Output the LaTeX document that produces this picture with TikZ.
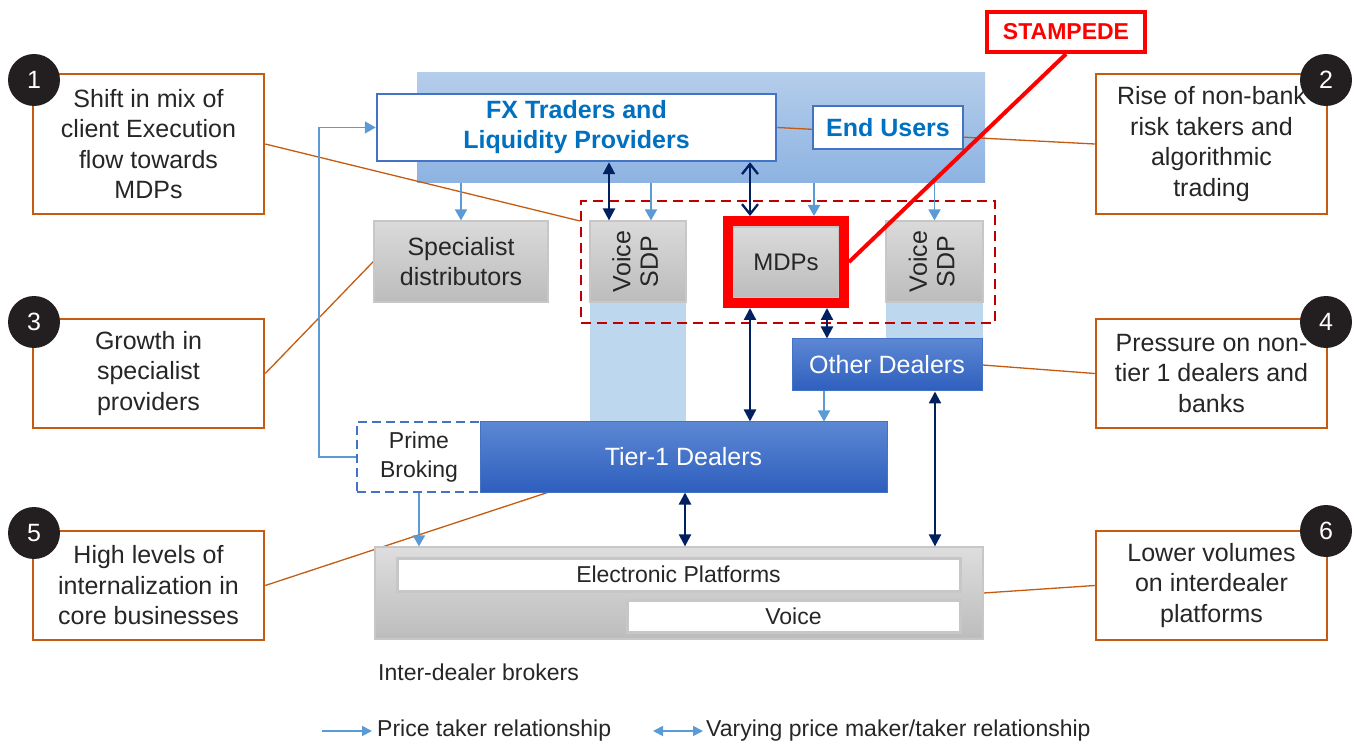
\documentclass[tikz,border=0pt]{standalone}
\usepackage{fontspec}
\setmainfont{Liberation Sans}
\usetikzlibrary{arrows.meta,calc}
\pgfdeclarelayer{back}
\pgfdeclarelayer{links}
\pgfsetlayers{back,links,main}

\definecolor{txt}{HTML}{262626}
\definecolor{org}{HTML}{C55A11}
\definecolor{navy}{HTML}{002060}
\definecolor{lblue}{HTML}{5B9BD5}
\definecolor{colbl}{HTML}{BDD7EE}
\definecolor{fxblue}{HTML}{0070C0}
\definecolor{bordblue}{HTML}{4472C4}
\definecolor{darkred}{HTML}{C00000}
\definecolor{bgtop}{HTML}{B4CDEA}
\definecolor{bgbot}{HTML}{8DB3E2}
\definecolor{graytop}{HTML}{DADADA}
\definecolor{graybot}{HTML}{BCBCBC}
\definecolor{dltop}{HTML}{5C87D3}
\definecolor{dlbot}{HTML}{2E5FBE}
\definecolor{badgecol}{HTML}{231F20}

\begin{document}
\begin{tikzpicture}[x=1pt,y=-1pt,
  every node/.style={inner sep=0pt},
  note/.style={draw=org, line width=2.5pt, fill=white, minimum width=231pt,
    text=txt, align=center, font=\fontsize{25}{30.5}\selectfont},
  badge/.style={circle, fill=badgecol, text=white, minimum size=52pt,
    font=\fontsize{25}{25}\selectfont},
  graybox/.style={draw=black!22, line width=1.2pt, top color=graytop,
    bottom color=graybot, text=txt, align=center,
    font=\fontsize{25}{30.5}\selectfont},
  dealerbox/.style={draw=bordblue, line width=1pt, top color=dltop,
    bottom color=dlbot, text=white, font=\fontsize{25}{30}\selectfont},
  bluebox/.style={draw=bordblue, line width=2.5pt, fill=white, text=fxblue,
    align=center, font=\fontsize{25}{31}\selectfont\bfseries},
  platbox/.style={draw=black!22, line width=3pt, fill=white, text=txt,
    font=\fontsize{23}{27}\selectfont},
  pt/.style={lblue, line width=1.8pt, -{Triangle[width=12pt,length=11pt]}},
  ptd/.style={lblue, line width=1.8pt,
    {Triangle[width=10pt,length=10pt]}-{Triangle[width=10pt,length=10pt]}},
  pm/.style={navy, line width=2.3pt,
    {Triangle[width=12pt,length=12pt]}-{Triangle[width=12pt,length=12pt]}},
  pmo/.style={navy, line width=2.3pt,
    {Straight Barb[width=16pt,length=10pt]}-{Straight Barb[width=16pt,length=10pt]}},
  link/.style={org, line width=1.3pt},
  legendtext/.style={text=txt, font=\fontsize{23}{27}\selectfont, anchor=west}]

\useasboundingbox (0,0) rectangle (1353,743);

% shaded backdrop for the client tier and the liquidity columns
\begin{pgfonlayer}{back}
  \node[top color=bgtop, bottom color=bgbot, minimum width=568pt,
        minimum height=110pt] (bg) at (701,128) {};
  \node[fill=colbl, minimum width=96pt, minimum height=120pt] (colL) at (638,362) {};
  \node[fill=colbl, minimum width=97pt, minimum height=78pt] (colR) at (934.5,341) {};
\end{pgfonlayer}

% numbered trend notes
\node[note, minimum height=140pt] (b1) at (148.5,144)
  {Shift in mix of\\client Execution\\flow towards\\MDPs};
\node[note, minimum height=140pt] (b2) at (1211.5,144)
  {Rise of non-bank\\risk takers and\\algorithmic\\trading};
\node[note, minimum height=109pt] (b3) at (148.5,373.5)
  {Growth in\\specialist\\providers};
\node[note, minimum height=109pt] (b4) at (1211.5,373.5)
  {Pressure on non-\\tier 1 dealers and\\banks};
\node[note, minimum height=109pt] (b5) at (148.5,585.5)
  {High levels of\\internalization in\\core businesses};
\node[note, minimum height=109pt] (b6) at (1211.5,585.5)
  {Lower volumes\\on interdealer\\platforms};

\node[badge] (n1) at (34,80) {1};
\node[badge] (n2) at (1326,80) {2};
\node[badge] (n3) at (34,322) {3};
\node[badge] (n4) at (1326,322) {4};
\node[badge] (n5) at (34,533) {5};
\node[badge] (n6) at (1326,531) {6};

% clients
\node[bluebox, minimum width=399pt, minimum height=67pt] (fx) at (576.5,127.5)
  {\raisebox{-4pt}{\begin{tabular}{@{}c@{}}FX Traders and\\[-1pt]Liquidity Providers\end{tabular}}};
\node[bluebox, minimum width=150pt, minimum height=43pt] (eu) at (888,127.5)
  {End Users};

% distributors
\node[graybox, minimum width=174pt, minimum height=81pt] (sd) at (461,261.5)
  {Specialist\\distributors};
\node[graybox, minimum width=96pt, minimum height=81pt] (vsl) at (638,261.5)
  {\rotatebox{90}{\begin{tabular}{@{}c@{}}Voice\\[-3pt]SDP\end{tabular}}};
\node[graybox, minimum width=97pt, minimum height=81pt] (vsr) at (934.5,261.5)
  {\rotatebox{90}{\begin{tabular}{@{}c@{}}Voice\\[-3pt]SDP\end{tabular}}};
\node[graybox, minimum width=106pt, minimum height=71pt,
      font=\fontsize{24}{28}\selectfont] (mdp) at (786,262.5) {MDPs};
\node[draw=red, line width=10pt, minimum width=116pt, minimum height=82pt]
  (mdf) at (786,262) {};

% dealers
\node[draw=bordblue, dashed, dash pattern=on 9pt off 5pt, line width=2.5pt,
      fill=white, minimum width=124pt, minimum height=70pt, text=txt,
      align=center, font=\fontsize{23}{29}\selectfont] (pb) at (419,457)
  {Prime\\Broking};
\node[dealerbox, minimum width=407pt, minimum height=70pt] (t1) at (683.5,457)
  {Tier-1 Dealers};
\node[dealerbox, minimum width=190pt, minimum height=52pt] (od) at (887,365)
  {Other Dealers};

% inter-dealer brokers
\node[draw=black!22, line width=1.2pt, top color=graytop!90,
      bottom color=graybot, minimum width=608pt, minimum height=92pt]
  (idb) at (679,593) {};
\node[platbox, minimum width=563pt, minimum height=33pt] (ep) at (678.5,574.5)
  {\raisebox{-1.5pt}{Electronic Platforms}};
\node[platbox, minimum width=333pt, minimum height=32pt] (vo) at (793.5,616)
  {\raisebox{-1pt}{Voice}};
\node[legendtext] (idbl) at (378,672) {Inter-dealer brokers};

% non-bank group outline
\node[draw=darkred, line width=2pt, dash pattern=on 10pt off 6pt,
      minimum width=414pt, minimum height=122pt] (dr) at (788,262) {};

% callout
\node[draw=red, line width=4pt, fill=white, text=red, minimum width=158pt,
      minimum height=40pt, font=\fontsize{23}{27}\selectfont\bfseries]
  (stamp) at (1066,32) {STAMPEDE};

\coordinate (drk) at ($(dr.north west)+(0,21)$);
\coordinate (t1k) at ($(t1.south west)+(68,0)$);

% leader lines from the notes
\begin{pgfonlayer}{links}
  \draw[link] (b1.east) -- (drk);
  \draw[link] (b2.west) -- (fx.east);
  \draw[link] (b3.east) -- (sd.west);
  \draw[link] (b4.west) -- (od.east);
  \draw[link] (b5.east) -- (t1k);
  \draw[link] (b6.west) -- (idb.east);
\end{pgfonlayer}

% price taker relationships
\draw[pt] (bg.south -| sd.north) -- (sd.north);
\draw[pt] (bg.south -| 651,0) -- (vsl.north -| 651,0);
\draw[pt] (bg.south -| 814,0) -- (mdf.north -| 814,0);
\draw[pt] (bg.south -| vsr.north) -- (vsr.north);
\draw[pt] (od.south -| 824,0) -- (t1.north -| 824,0);
\draw[pt] (pb.south) -- (idb.north -| pb.south);
\draw[pt] (pb.west) -- ++(-37,0) |- (fx.west);

% varying price maker/taker relationships
\draw[pm] (fx.south -| 609,0) -- (vsl.north -| 609,0);
\draw[pmo] (fx.south -| 750,0) -- (mdf.north -| 750,0);
\draw[pm] (mdf.south -| 750,0) -- (t1.north -| 750,0);
\draw[pm] (mdf.south -| 827,0) -- (od.north -| 827,0);
\draw[pm] (t1.south -| 685,0) -- (idb.north -| 685,0);
\draw[pm] (od.south -| 935,0) -- (idb.north -| 935,0);

% callout pointer
\draw[red, line width=4pt] (stamp.south) -- (mdf.east);

% legend
\coordinate (la1) at (322,731);
\coordinate (la2) at (372,731);
\coordinate (lb1) at (653,731);
\coordinate (lb2) at (703,731);
\draw[pt, -{Triangle[width=10pt,length=10pt]}] (la1) -- (la2);
\node[legendtext] (lt1) at (377,731) {Price taker relationship};
\draw[ptd] (lb1) -- (lb2);
\node[legendtext] (lt2) at (706,731) {Varying price maker/taker relationship};
\end{tikzpicture}
\end{document}
